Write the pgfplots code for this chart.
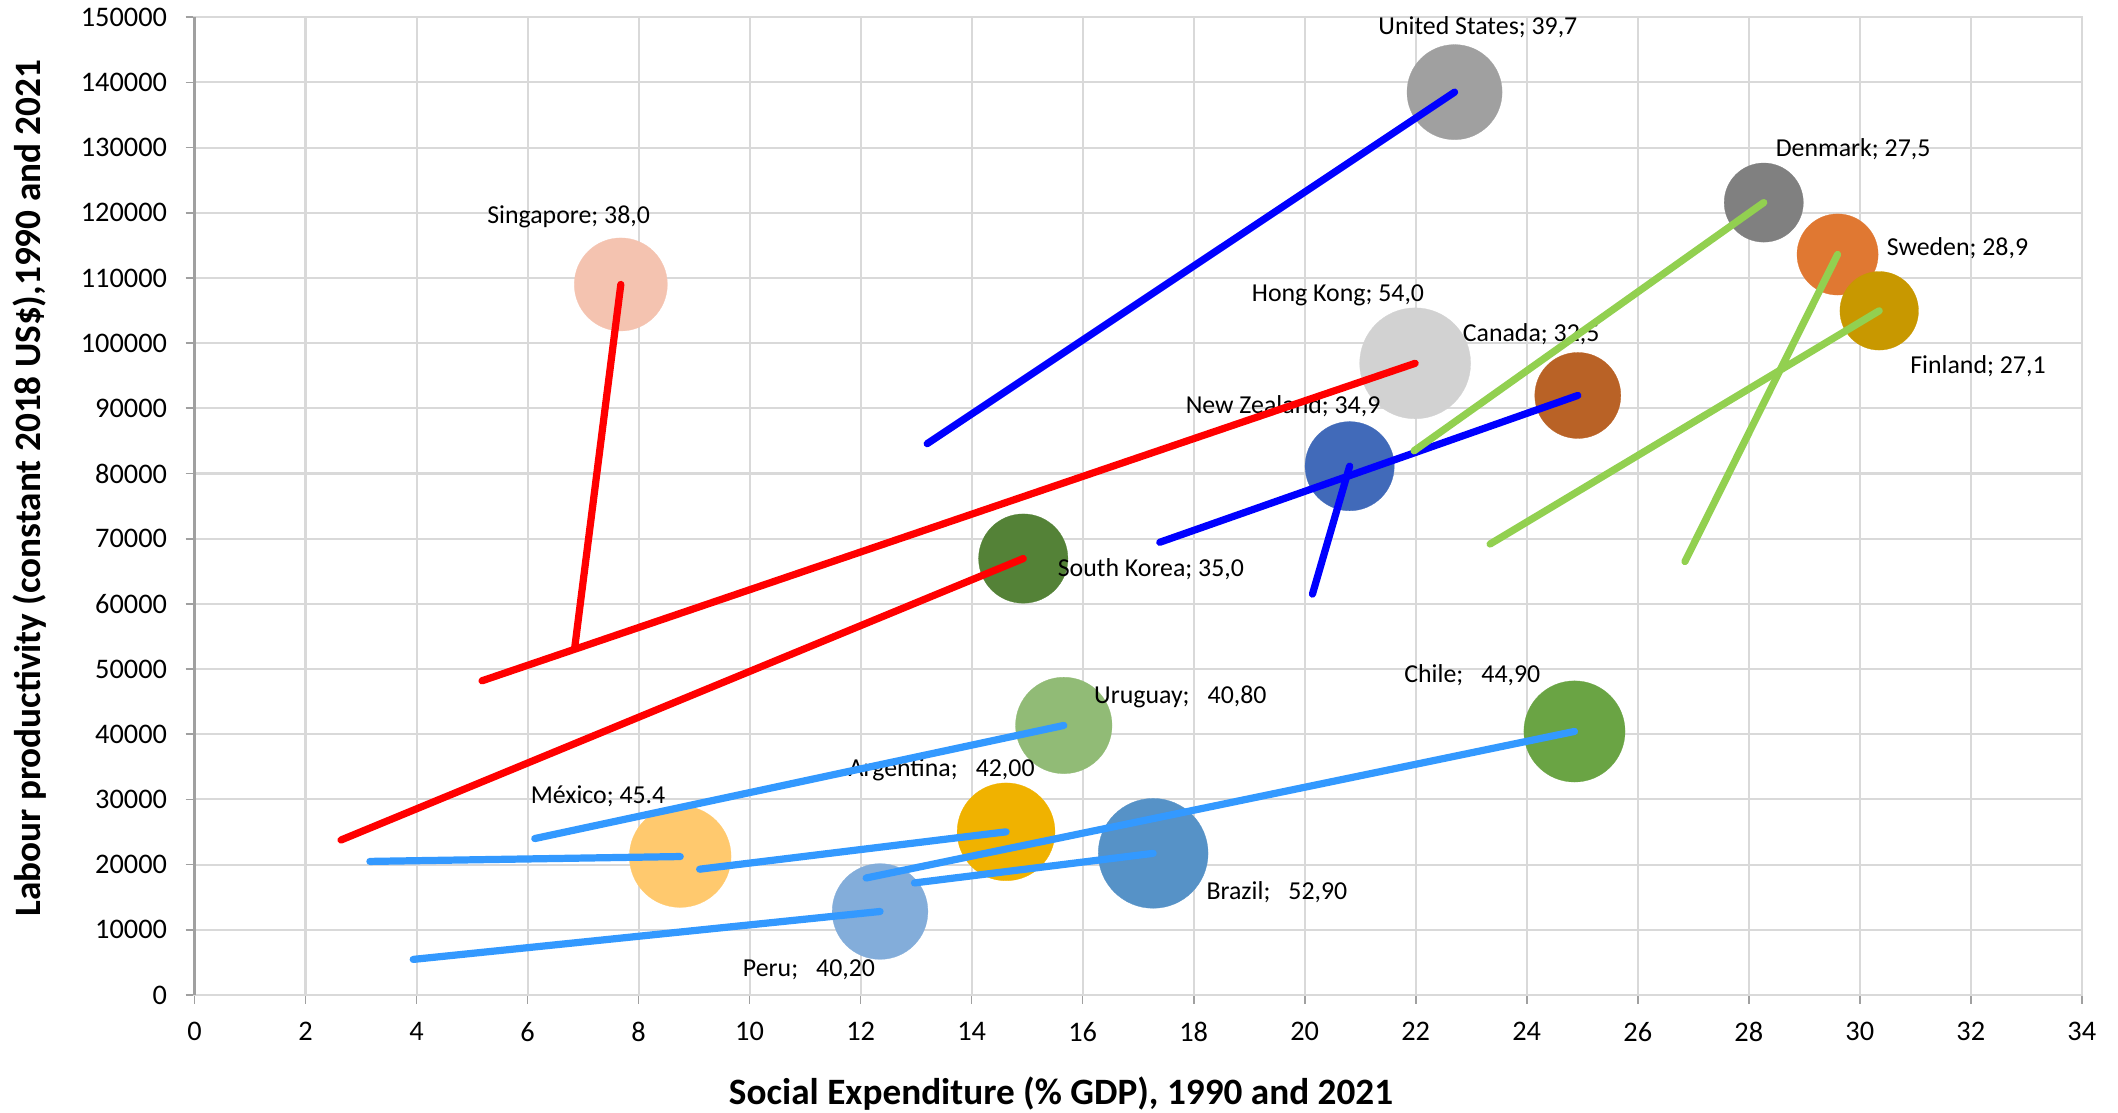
\documentclass[border=0pt]{standalone}
\usepackage{fontspec}
\setmainfont{Carlito}
\usepackage{pgfplots}
\pgfplotsset{compat=1.18}

\definecolor{gridgray}{RGB}{217,217,217}
\definecolor{axisgray}{RGB}{160,160,160}
\definecolor{lred}{RGB}{255,0,0}
\definecolor{lblue}{RGB}{0,0,255}
\definecolor{llblue}{RGB}{51,153,255}
\definecolor{lgreen}{RGB}{146,208,80}
\definecolor{cSing}{RGB}{244,195,176}
\definecolor{cUS}{RGB}{160,160,160}
\definecolor{cDen}{RGB}{128,128,128}
\definecolor{cSwe}{RGB}{224,120,50}
\definecolor{cFin}{RGB}{200,152,0}
\definecolor{cHK}{RGB}{210,210,210}
\definecolor{cCan}{RGB}{185,98,38}
\definecolor{cNZ}{RGB}{65,106,185}
\definecolor{cSK}{RGB}{84,130,55}
\definecolor{cUru}{RGB}{145,187,118}
\definecolor{cArg}{RGB}{240,178,0}
\definecolor{cMex}{RGB}{255,201,110}
\definecolor{cPer}{RGB}{131,173,218}
\definecolor{cBra}{RGB}{86,146,199}
\definecolor{cChi}{RGB}{106,164,68}

\newcommand{\bubble}[4]{\addplot[only marks, mark=*, color=#4, mark size=#3pt, mark options={line width=0.1pt}] coordinates {(#1,#2)};}
\newcommand{\seg}[5]{\addplot[#5, line width=2.6pt, line cap=round, mark=none] coordinates {(#1,#2) (#3,#4)};}

\begin{document}
\begin{tikzpicture}
\begin{axis}[
  at={(0,0)}, anchor=south west,
  set layers=standard, mark layer=pre main,
  scale only axis, width=679.4pt, height=352.0pt,
  xmin=0, xmax=34, ymin=0, ymax=150000,
  xtick={0,2,...,34}, ytick={0,10000,...,150000},
  scaled y ticks=false,
  /pgf/number format/assume math mode=true,
  /pgf/number format/fixed,
  /pgf/number format/1000 sep={},
  ticklabel style={font=\fontsize{10.2}{12}\selectfont},
  yticklabel style={anchor=east, inner sep=0pt, xshift=-6.5pt},
  xticklabel style={anchor=north, inner sep=0pt, yshift=-6.5pt},
  grid=major, major grid style={draw=gridgray, line width=0.75pt},
  axis line style={draw=gridgray, line width=0.75pt},
  tick pos=left, tick align=outside, major tick length=3.2pt,
  tick style={draw=axisgray, line width=0.6pt},
  clip=false,
]
% bubbles (2021 positions; size = value after label)
\bubble{7.68}{109000}{16.75}{cSing}
\bubble{21.99}{96900}{19.97}{cHK}
\bubble{14.93}{66950}{16.07}{cSK}
\bubble{22.70}{138500}{17.12}{cUS}
\bubble{24.92}{91970}{15.48}{cCan}
\bubble{20.81}{81120}{16.05}{cNZ}
\bubble{28.27}{121560}{14.24}{cDen}
\bubble{29.60}{113600}{14.60}{cSwe}
\bubble{30.35}{104960}{14.14}{cFin}
\bubble{24.86}{40430}{18.21}{cChi}
\bubble{15.66}{41350}{17.36}{cUru}
\bubble{8.75}{21240}{18.31}{cMex}
\bubble{14.62}{25030}{17.61}{cArg}
\bubble{12.35}{12810}{17.23}{cPer}
\bubble{17.27}{21730}{19.77}{cBra}

\draw[axisgray, line width=0.75pt] (rel axis cs:0,0) -- (rel axis cs:0,1);

% labels
\begin{scope}[every node/.style={font=\fontsize{9.3}{11}\selectfont, inner sep=0pt}]
\node at (axis cs:23.12,148490) {United States; 39,7};
\node at (axis cs:29.88,129777) {Denmark; 27,5};
\node at (axis cs:31.76,114500) {Sweden; 28,9};
\node at (axis cs:32.13,96480) {Finland; 27,1};
\node at (axis cs:24.08,101390) {Canada; 32,5};
\node at (axis cs:20.60,107320) {Hong Kong; 54,0};
\node at (axis cs:19.61,90260) {New Zealand; 34,9};
\node at (axis cs:6.74,119400) {Singapore; 38,0};
\node at (axis cs:17.23,65380) {South Korea; 35,0};
\node at (axis cs:17.76,45670) {Uruguay;\hspace{0.7em}40,80};
\node at (axis cs:13.46,34590) {Argentina;\hspace{0.7em}42,00};
\node at (axis cs:19.50,15740) {Brazil;\hspace{0.7em}52,90};
\node at (axis cs:11.07,3800) {Peru;\hspace{0.7em}40,20};
\node at (axis cs:23.02,49120) {Chile;\hspace{0.7em}44,90};
\node at (axis cs:7.27,30480) {México; 45.4};
\end{scope}

% lines 1990 -> 2021
\seg{6.85}{53300}{7.68}{109000}{lred}
\seg{5.18}{48200}{21.99}{96900}{lred}
\seg{2.64}{23780}{14.93}{66950}{lred}
\seg{13.20}{84575}{22.70}{138500}{lblue}
\seg{17.39}{69450}{24.92}{91970}{lblue}
\seg{20.14}{61500}{20.81}{81120}{lblue}
\seg{21.97}{83480}{28.27}{121560}{lgreen}
\seg{26.85}{66490}{29.60}{113600}{lgreen}
\seg{23.34}{69180}{30.35}{104960}{lgreen}
\seg{12.10}{17950}{24.86}{40430}{llblue}
\seg{6.13}{24000}{15.66}{41350}{llblue}
\seg{3.16}{20490}{8.75}{21240}{llblue}
\seg{9.10}{19300}{14.62}{25030}{llblue}
\seg{3.94}{5460}{12.35}{12810}{llblue}
\seg{12.97}{17190}{17.27}{21730}{llblue}

\node[font=\fontsize{13.4}{16}\selectfont\bfseries] at ([yshift=-35.6pt]axis cs:15.61,0) {Social Expenditure (\% GDP), 1990 and 2021};
\node[font=\fontsize{13.4}{16}\selectfont\bfseries, rotate=90] at ([xshift=-59.3pt]axis cs:0,77730) {Labour productivity (constant 2018 US\$),1990 and 2021};
\end{axis}
\pgfresetboundingbox
\useasboundingbox (-70.02pt,-42.12pt) rectangle (692.43pt,358.19pt);
\end{tikzpicture}
\end{document}
